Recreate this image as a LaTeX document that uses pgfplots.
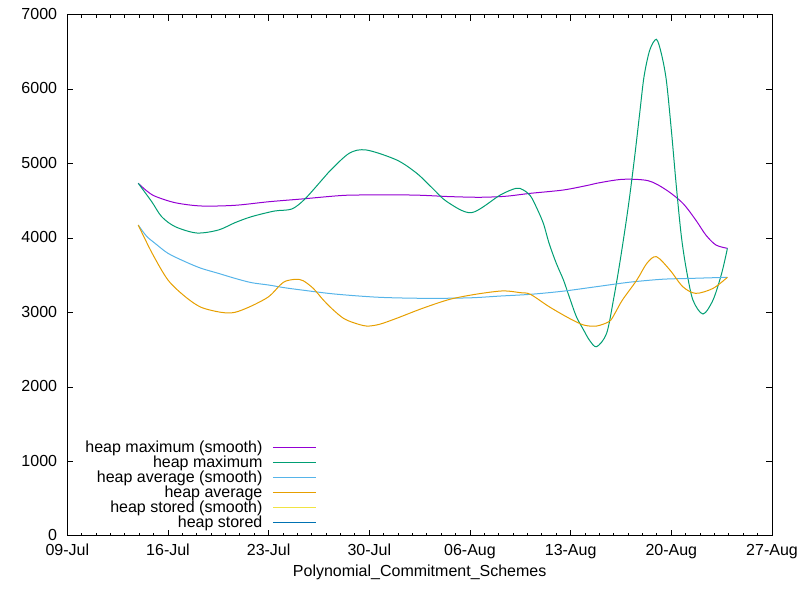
\documentclass[border=0pt]{standalone}
\usepackage{fontspec}
\setmainfont{Liberation Sans}
\usepackage{pgfplots}
\pgfplotsset{compat=1.18}
\definecolor{gpA}{HTML}{9400D3}
\definecolor{gpB}{HTML}{009E73}
\definecolor{gpC}{HTML}{56B4E9}
\definecolor{gpD}{HTML}{E69F00}
\definecolor{gpE}{HTML}{F0E442}
\definecolor{gpF}{HTML}{0072B2}
\newcommand{\gpfont}{\fontsize{12}{14}\selectfont}
\begin{document}
\begin{tikzpicture}
\useasboundingbox (0,0) rectangle (600pt,450pt);
\begin{axis}[
  at={(50.5pt,48pt)}, anchor=south west,
  width=528.5pt, height=390.75pt, scale only axis,
  xmin=0, xmax=49, ymin=0, ymax=7000,
  xtick={0,7,...,49},
  xticklabels={09-Jul,16-Jul,23-Jul,30-Jul,06-Aug,13-Aug,20-Aug,27-Aug},
  minor x tick num=6,
  ytick={0,1000,...,7000},
  scaled y ticks=false,
  /pgf/number format/1000 sep={},
  /pgf/number format/assume math mode=true,
  tick label style={font=\gpfont},
  yticklabel style={inner sep=0pt, xshift=-7.5pt, yshift=0.75pt},
  xticklabel style={inner sep=0pt, anchor=base, yshift=-14.25pt},
  xlabel={Polynomial\_Commitment\_Schemes},
  xlabel style={at={(axis description cs:0.5,-0.0768)}, anchor=base, inner sep=0pt, font=\gpfont},
  major tick length=4.5pt, minor tick length=2.25pt,
  tick style={black, line width=0.75pt},
  axis line style={line width=0.75pt},
  tick align=inside,
  every axis plot/.append style={line width=0.75pt},
  legend cell align=right,
  legend plot pos=right,
  legend image code/.code={\draw[#1] (0pt,3.75pt) -- (32.5pt,3.75pt);},
  legend style={at={(axis description cs:0.3539,0.1814)}, anchor=north east,
    draw=none, fill=none, inner sep=0pt, outer sep=0pt,
    row sep=0pt, column sep=7.5pt, font=\gpfont,
    cells={anchor=base east},
    nodes={inner sep=0pt, text height=8.6pt, text depth=2.65pt}},
]
\addplot[gpA, smooth] table {
4.93 4739
5.5 4640
6.1 4565
7.5 4478
9.3 4434
11.65 4443
14.0 4491
16.3 4528
18.6 4568
20 4581
24 4581
26.6 4560
28.7 4551
30.5 4565
32.2 4604
34.5 4649
36.3 4716
36.8 4739
38.6 4792
40.4 4773
41.65 4649
42.8 4470
43.7 4245
44.4 4044
45.1 3910
45.9 3865
};
\addlegendentry{heap maximum (smooth)}
\addplot[gpB, smooth] table {
4.93 4739
5.87 4491
6.56 4290
7.5 4156
9.0 4071
10.5 4111
11.65 4209
12.8 4290
14.4 4366
15.6 4393
16.5 4524
17.7 4783
18.2 4894
19.6 5142
20.8 5186
22.9 5052
24.3 4873
25.4 4671
26.4 4491
28.1 4344
30.1 4581
31.2 4671
31.7 4650
32.2 4570
32.6 4424
33.1 4201
33.5 3932
34.0 3664
34.5 3439
34.9 3215
35.4 2946
35.9 2768
36.3 2633
36.8 2543
37.5 2723
38.0 3200
38.4 3650
38.8 4150
39.1 4559
39.45 5096
39.8 5679
40.1 6171
40.5 6529
40.96 6673
41.3 6485
41.65 6126
42.0 5455
42.35 4693
42.7 4021
43.05 3574
43.5 3171
44.2 2983
44.9 3171
45.5 3529
45.9 3865
};
\addlegendentry{heap maximum}
\addplot[gpC, smooth] table {
4.93 4178
5.5 4030
6.1 3932
7.0 3798
8.2 3685
9.3 3597
10.5 3529
11.65 3462
12.8 3404
14.0 3372
15.1 3336
16.3 3305
18.6 3251
21.7 3207
25 3193
28 3200
30.1 3224
32.2 3247
34.5 3290
36.8 3350
39.1 3410
41.4 3450
43.5 3462
45.9 3476
};
\addlegendentry{heap average (smooth)}
\addplot[gpD, smooth] table {
4.93 4178
5.9 3798
7.0 3439
8.2 3215
9.3 3073
10.7 3005
11.65 3005
12.8 3090
14.0 3215
14.8 3372
15.2 3426
15.9 3449
16.4 3430
17.1 3327
17.8 3171
18.5 3036
19.2 2925
19.9 2866
20.8 2821
21.7 2844
22.9 2925
24.7 3059
26.6 3180
28.5 3251
30.3 3293
31.5 3269
32.2 3247
33.5 3081
34.9 2925
35.9 2835
36.8 2821
37.7 2885
38.1 3000
38.6 3171
39.6 3439
40.3 3664
40.96 3753
41.9 3574
42.8 3349
43.7 3260
44.9 3327
45.9 3476
};
\addlegendentry{heap average}
\addlegendimage{gpE, line width=0.75pt}
\addlegendentry{heap stored (smooth)}
\addlegendimage{gpF, line width=0.75pt}
\addlegendentry{heap stored}
\end{axis}
\end{tikzpicture}
\end{document}
